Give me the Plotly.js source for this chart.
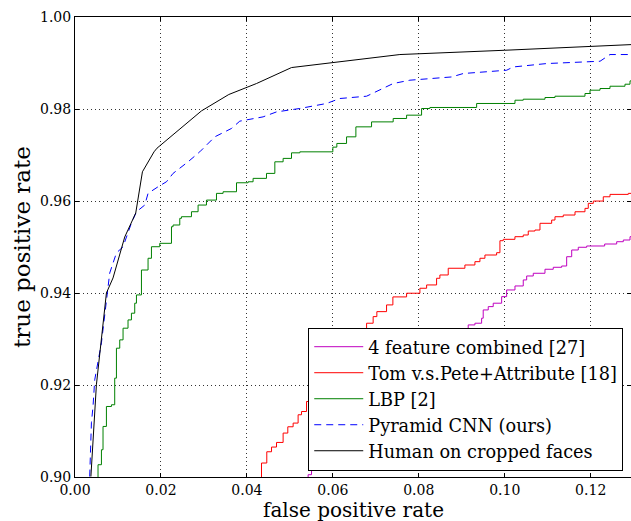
<!DOCTYPE html>
<html>
<head>
<meta charset="utf-8">
<script src="https://cdn.plot.ly/plotly-3.0.1.min.js"></script>
<style>html,body{margin:0;padding:0;background:#fff;}#chart{width:631px;height:521px;}</style>
</head>
<body>
<div id="chart"></div>
<script>
// Human on cropped faces
const humanX = [0.0037,0.00498,0.00731,0.00885,0.01157,0.01413,0.01569,0.01839,0.01909,0.02943,0.03579,0.04224,0.05038,0.0756,0.1000,0.1198,0.1294];
const humanY = [0.9001,0.92004,0.9400,0.94327,0.95217,0.95738,0.96635,0.97069,0.97149,0.97959,0.98315,0.98554,0.98901,0.99184,0.99277,0.99370,0.9940];
// Pyramid CNN (ours)
const cnnX = [0.00342,0.00382,0.00419,0.00459,0.00615,0.00731,0.00808,0.00964,0.01118,0.01313,0.0143,0.01623,0.017,0.01932,0.02128,0.02282,0.02631,0.02903,0.03253,0.03641,0.03835,0.04377,0.04689,0.05232,0.05853,0.06163,0.06785,0.07404,0.07793,0.08764,0.09034,0.10044,0.10198,0.10976,0.12217,0.12449,0.1294];
const cnnY = [0.9001,0.91179,0.91533,0.92112,0.92916,0.93849,0.94435,0.9487,0.95006,0.95521,0.95766,0.95912,0.96166,0.96309,0.96418,0.966,0.96852,0.97069,0.97395,0.97577,0.97736,0.97829,0.97937,0.98011,0.9812,0.98228,0.98278,0.98554,0.98626,0.98697,0.98771,0.98843,0.98914,0.98988,0.99038,0.99184,0.99184];
// LBP [2]
const lbpX = [0.00536,0.00536,0.00615,0.00652,0.00731,0.00848,0.00924,0.00964,0.01041,0.01118,0.01234,0.01313,0.0139,0.0143,0.01546,0.017,0.01779,0.01972,0.02245,0.02282,0.02438,0.02477,0.0271,0.02864,0.03059,0.03292,0.03446,0.03758,0.04028,0.04144,0.04456,0.0465,0.04843,0.05038,0.05232,0.06,0.06093,0.06319,0.06536,0.06901,0.07404,0.07716,0.08065,0.08258,0.09346,0.10238,0.10431,0.10936,0.11169,0.11867,0.11984,0.12217,0.12449,0.12798,0.12915,0.1294];
const lbpY = [0.9000,0.90267,0.90593,0.91099,0.91533,0.9157,0.92149,0.928,0.92981,0.93235,0.93415,0.93561,0.93778,0.93958,0.945,0.94755,0.95006,0.9508,0.95441,0.95478,0.95623,0.95658,0.95767,0.95912,0.9602,0.96166,0.96201,0.96396,0.96418,0.96492,0.966,0.96852,0.96926,0.97047,0.97069,0.97171,0.97251,0.97395,0.97612,0.9772,0.97794,0.97866,0.98011,0.98033,0.9812,0.98191,0.98213,0.9825,0.98278,0.98337,0.98409,0.98445,0.98495,0.98539,0.98611,0.98611];
// Tom v.s.Pete+Attribute [18]
const tomX = [0.0434,0.0434,0.04463,0.04573,0.04689,0.04843,0.04952,0.05076,0.05192,0.05271,0.05388,0.05697,0.06047,0.06396,0.06675,0.06785,0.06938,0.07024,0.0725,0.07397,0.07716,0.08026,0.08182,0.08414,0.08491,0.08685,0.09073,0.09306,0.09423,0.09539,0.09811,0.09888,0.09965,0.10237,0.10431,0.10547,0.10703,0.1082,0.11092,0.11169,0.11362,0.11635,0.11867,0.11944,0.12061,0.12293,0.12449,0.12875,0.1294];
const tomY = [0.9000,0.90304,0.90549,0.90651,0.90751,0.90955,0.91092,0.91172,0.91353,0.91424,0.91641,0.91939,0.9233,0.9272,0.93024,0.93343,0.93487,0.93595,0.93741,0.93915,0.93995,0.94103,0.94175,0.9432,0.94392,0.94538,0.94609,0.94681,0.94755,0.94826,0.94876,0.95137,0.95167,0.95224,0.95261,0.95347,0.95369,0.95515,0.95586,0.95658,0.95695,0.95766,0.9584,0.95949,0.95999,0.96092,0.96144,0.96166,0.96166];
// 4 feature combined [27]
const featX = [0.05425,0.05425,0.05504,0.06163,0.07094,0.08026,0.08724,0.08996,0.0915,0.09306,0.09462,0.09499,0.09616,0.09732,0.09928,0.10044,0.10238,0.10431,0.1051,0.10664,0.10936,0.11129,0.11325,0.11441,0.11558,0.11711,0.11907,0.12325,0.12605,0.12759,0.12915,0.1294];
const featY = [0.9000,0.9005,0.90195,0.90810,0.9157,0.9233,0.92872,0.93198,0.93306,0.93343,0.93452,0.93632,0.93704,0.93778,0.93921,0.94066,0.94153,0.94284,0.9437,0.94429,0.94516,0.94559,0.94587,0.94789,0.94935,0.94994,0.95022,0.95065,0.95115,0.95152,0.95224,0.95224];

const xTicks = [0.00,0.02,0.04,0.06,0.08,0.10,0.12];
const yTicks = [0.90,0.92,0.94,0.96,0.98,1.00];
const xTitle = 'false positive rate';
const yTitle = 'true positive rate';

const serif = 'DejaVu Serif, serif';
const traces = [
  {x: featX, y: featY, name: '4 feature combined [27]', mode: 'lines', line: {color: '#bf00bf', width: 1, shape: 'hv'}},
  {x: tomX, y: tomY, name: 'Tom v.s.Pete+Attribute [18]', mode: 'lines', line: {color: '#ff0000', width: 1, shape: 'hv'}},
  {x: lbpX, y: lbpY, name: 'LBP [2]', mode: 'lines', line: {color: '#008000', width: 1, shape: 'hv'}},
  {x: cnnX, y: cnnY, name: 'Pyramid CNN (ours)', mode: 'lines', line: {color: '#0000ff', width: 1, dash: '7px,5px'}},
  {x: humanX, y: humanY, name: 'Human on cropped faces', mode: 'lines', line: {color: '#000000', width: 1}}
];
const axisCommon = {
  showline: true, linecolor: '#000', linewidth: 1, mirror: 'allticks',
  ticks: 'inside', ticklen: 4, tickcolor: '#000', tickwidth: 1,
  showgrid: true, gridcolor: '#333', griddash: '1px,3px', gridwidth: 1,
  zeroline: false, tickfont: {family: serif, size: 14, color: '#000'},
  tickformat: '.2f'
};
const layout = {
  width: 631, height: 521,
  margin: {l: 75, r: 0, t: 17, b: 44},
  paper_bgcolor: '#fff', plot_bgcolor: '#fff',
  showlegend: true,
  xaxis: Object.assign({}, axisCommon, {
    range: [0, 0.12938], tickvals: xTicks
  }),
  yaxis: Object.assign({}, axisCommon, {
    range: [0.90, 1.00], tickvals: yTicks,
    title: {text: yTitle, font: {family: serif, size: 23, color: '#000'}, standoff: 2}
  }),
  annotations: [{
    text: xTitle, xref: 'paper', yref: 'paper', x: 0.5, y: 0,
    xanchor: 'center', yanchor: 'top', yshift: -18.5, showarrow: false,
    font: {family: serif, size: 20, color: '#000'}
  }],
  legend: {
    x: 0.4195, y: 0.0137, xanchor: 'left', yanchor: 'bottom',
    bgcolor: '#fff', bordercolor: '#000', borderwidth: 1,
    font: {family: serif, size: 17.7, color: '#000'},
    itemwidth: 49
  }
};
Plotly.newPlot('chart', traces, layout, {displayModeBar: false, staticPlot: true});
</script>
</body>
</html>
